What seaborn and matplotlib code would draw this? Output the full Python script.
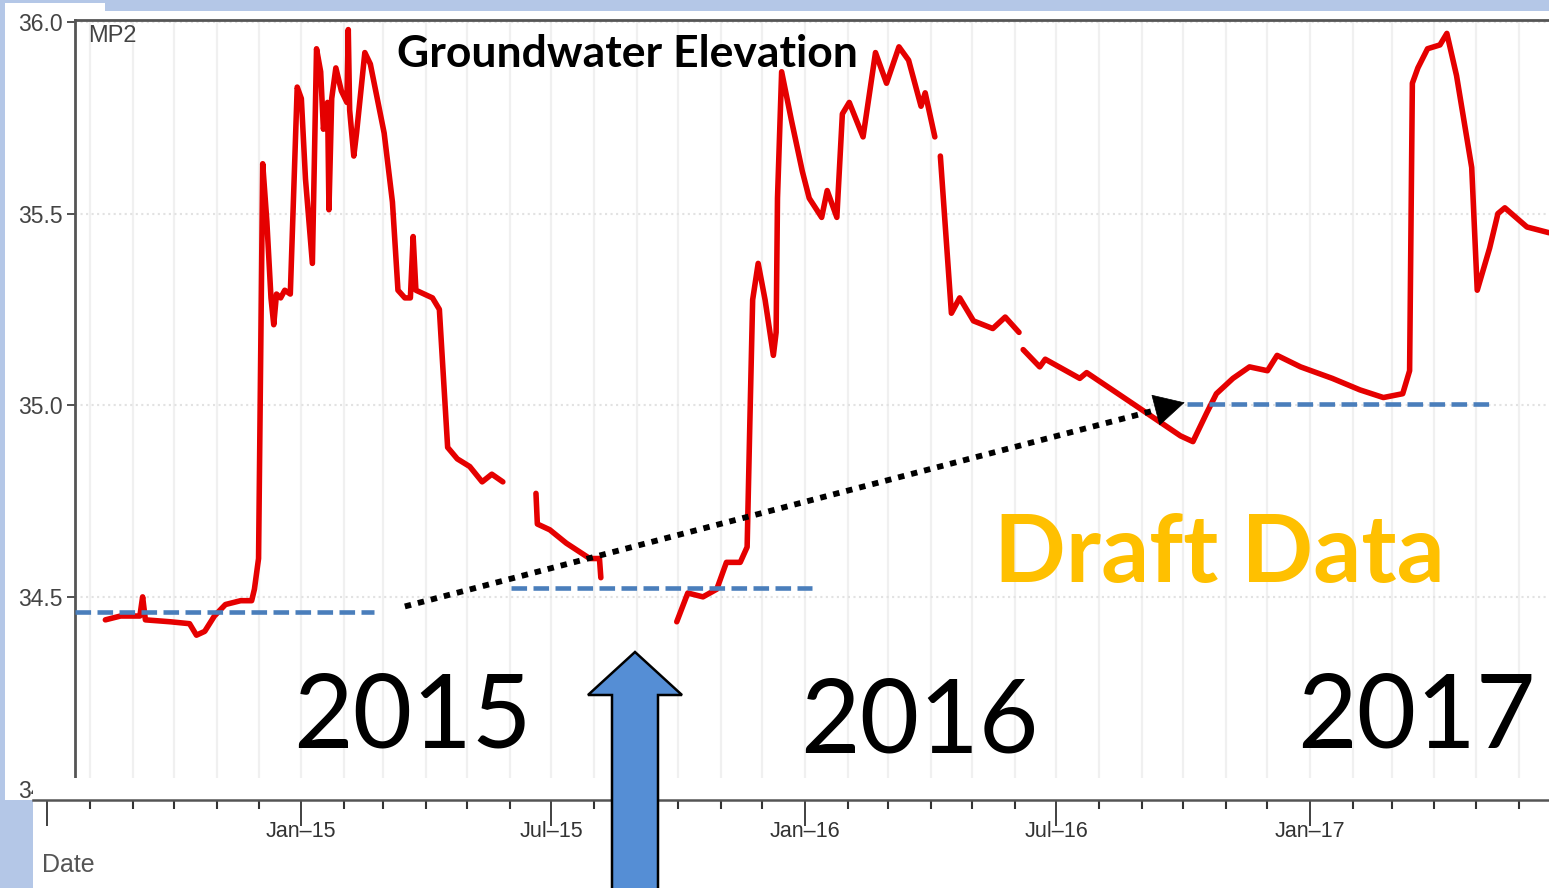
import matplotlib
matplotlib.use('Agg')
import numpy as np
import pandas as pd
import matplotlib.pyplot as plt
import matplotlib.dates as mdates
import matplotlib.ticker as ticker
from matplotlib.patches import Rectangle, Polygon
import seaborn as sns

# groundwater elevation at MP2 (gaps split the record)
seg_a_dates = ['2014-08-12', '2014-08-23', '2014-09-06', '2014-09-08', '2014-09-10', '2014-09-28',
               '2014-10-12', '2014-10-17', '2014-10-23', '2014-10-30', '2014-11-07', '2014-11-18',
               '2014-11-26', '2014-11-28', '2014-12-01', '2014-12-04', '2014-12-07', '2014-12-10',
               '2014-12-12', '2014-12-14', '2014-12-17', '2014-12-20', '2014-12-24', '2014-12-29',
               '2015-01-01', '2015-01-04', '2015-01-09', '2015-01-12', '2015-01-15', '2015-01-17',
               '2015-01-20', '2015-01-21', '2015-01-23', '2015-01-26', '2015-01-30', '2015-02-03',
               '2015-02-04', '2015-02-05', '2015-02-08', '2015-02-10', '2015-02-16', '2015-02-20',
               '2015-02-25', '2015-03-02', '2015-03-08', '2015-03-12', '2015-03-17', '2015-03-21',
               '2015-03-23', '2015-03-25', '2015-03-31', '2015-04-06', '2015-04-11', '2015-04-14',
               '2015-04-17', '2015-04-24', '2015-05-03', '2015-05-12', '2015-05-19', '2015-05-27']
seg_a_vals = [34.44, 34.45, 34.45, 34.50, 34.44, 34.435, 34.43, 34.40, 34.41, 34.45, 34.48, 34.49,
              34.49, 34.52, 34.60, 35.63, 35.48, 35.28, 35.21, 35.29, 35.28, 35.30, 35.29, 35.83,
              35.80, 35.59, 35.37, 35.93, 35.87, 35.72, 35.79, 35.51, 35.80, 35.88, 35.82, 35.79,
              35.98, 35.77, 35.65, 35.71, 35.92, 35.89, 35.80, 35.71, 35.53, 35.30, 35.28, 35.28,
              35.44, 35.30, 35.29, 35.28, 35.25, 35.07, 34.89, 34.86, 34.84, 34.80, 34.82, 34.80]

seg_b_dates = ['2015-06-20', '2015-06-21', '2015-06-30', '2015-07-12', '2015-07-29', '2015-08-05',
               '2015-08-06']
seg_b_vals = [34.77, 34.69, 34.675, 34.64, 34.60, 34.60, 34.55]

seg_c_dates = ['2015-09-30', '2015-10-08', '2015-10-19', '2015-10-29', '2015-11-05', '2015-11-15',
               '2015-11-20', '2015-11-22', '2015-11-24', '2015-11-28', '2015-12-03', '2015-12-09',
               '2015-12-11', '2015-12-12', '2015-12-15', '2015-12-22', '2015-12-30', '2016-01-04',
               '2016-01-13', '2016-01-17', '2016-01-24', '2016-01-28', '2016-02-02', '2016-02-12',
               '2016-02-21', '2016-02-29', '2016-03-09', '2016-03-16', '2016-03-25', '2016-03-28',
               '2016-04-04']
seg_c_vals = [34.435, 34.51, 34.50, 34.52, 34.59, 34.59, 34.63, 34.96, 35.275, 35.37, 35.275, 35.13,
              35.19, 35.54, 35.87, 35.745, 35.61, 35.54, 35.49, 35.56, 35.49, 35.76, 35.79, 35.70,
              35.92, 35.84, 35.935, 35.90, 35.78, 35.815, 35.70]

seg_d_dates = ['2016-04-08', '2016-04-16', '2016-04-22', '2016-05-02', '2016-05-16', '2016-05-25',
               '2016-06-04']
seg_d_vals = [35.65, 35.24, 35.28, 35.22, 35.20, 35.23, 35.19]

seg_e_dates = ['2016-06-07', '2016-06-19', '2016-06-23', '2016-07-18', '2016-07-23', '2016-08-23',
               '2016-09-29', '2016-10-08', '2016-10-18', '2016-10-25', '2016-11-06', '2016-11-18',
               '2016-12-01', '2016-12-08', '2016-12-25', '2017-01-17', '2017-02-06', '2017-02-23',
               '2017-03-09', '2017-03-14', '2017-03-16', '2017-03-20', '2017-03-27', '2017-04-05',
               '2017-04-10', '2017-04-17', '2017-04-28', '2017-05-02', '2017-05-11', '2017-05-17',
               '2017-05-22', '2017-06-07', '2017-06-23']
seg_e_vals = [35.145, 35.10, 35.12, 35.07, 35.085, 35.01, 34.92, 34.905, 34.98, 35.03, 35.07, 35.10,
              35.09, 35.13, 35.10, 35.07, 35.04, 35.02, 35.03, 35.09, 35.84, 35.88, 35.93, 35.94,
              35.97, 35.86, 35.62, 35.30, 35.41, 35.50, 35.515, 35.465, 35.45]

# dry-season baselines (blue dashed) and the trend arrow
base_starts = ['2014-07-21', '2015-06-02', '2016-10-04']
base_ends = ['2015-02-23', '2016-01-06', '2017-05-11']
base_levels = [34.46, 34.523, 35.003]
trend_dates = ['2015-03-17', '2016-10-02']
trend_vals = [34.475, 35.007]

year_labels = ['2015', '2016', '2017']
x_range = ['2014-07-21', '2017-06-23']
y_range = [33.97, 36.005]
y_ticks = [34.0, 34.5, 35.0, 35.5, 36.0]

segs = [(seg_a_dates, seg_a_vals), (seg_b_dates, seg_b_vals), (seg_c_dates, seg_c_vals),
        (seg_d_dates, seg_d_vals), (seg_e_dates, seg_e_vals)]
elev = pd.concat([pd.DataFrame({'date': pd.to_datetime(d), 'elev': v, 'seg': i})
                  for i, (d, v) in enumerate(segs)], ignore_index=True)

W, H = 1549, 888
def fx(x):
    return x / W
def fy(y):
    return 1 - y / H

sns.set_theme(style='white')
plt.rcParams['font.family'] = ['Liberation Sans', 'DejaVu Sans']

fig = plt.figure(figsize=(W / 100, H / 100), dpi=100, facecolor='#b4c7e7')
# white slide picture on the blue background
fig.add_artist(Rectangle((fx(5), fy(800)), fx(W) - fx(5), fy(11) - fy(800), transform=fig.transFigure,
                         facecolor='white', edgecolor='none', zorder=-2))
fig.add_artist(Rectangle((fx(5), fy(11)), fx(105) - fx(5), fy(3) - fy(11), transform=fig.transFigure,
                         facecolor='white', edgecolor='none', zorder=-2))

ax = fig.add_axes([fx(75), fy(800), fx(W) - fx(75), fy(20) - fy(800)])
ax.set_facecolor('white')

sns.lineplot(data=elev, x='date', y='elev', units='seg', estimator=None, color='#e50000',
             linewidth=4, ax=ax, legend=False)

for s, e, lvl in zip(base_starts, base_ends, base_levels):
    ax.plot(pd.to_datetime([s, e]), [lvl, lvl], color='#4a7ebb', lw=3.3, ls=(0, (3.4, 1.4)),
            dash_capstyle='butt', zorder=4)

# dotted trend arrow
sx, ex = mdates.date2num(pd.to_datetime(trend_dates))
sy, ey = trend_vals
tx, ty = sx + 0.968 * (ex - sx), sy + 0.968 * (ey - sy)
ax.plot([sx, tx], [sy, ty], color='black', lw=4.2, ls=(0, (1.1, 1.2)), dash_capstyle='butt', zorder=5)
ax.annotate('', xy=(ex, ey), xytext=(tx, ty),
            arrowprops=dict(arrowstyle='-|>,head_length=0.95,head_width=0.5', color='black', lw=0.5,
                            mutation_scale=22, shrinkA=0, shrinkB=0), zorder=5)

ax.set_xlim(pd.to_datetime(x_range[0]), pd.to_datetime(x_range[1]))
ax.set_ylim(*y_range)
ax.set_xlabel('')
ax.set_ylabel('')
ax.xaxis.set_major_locator(mdates.MonthLocator())
ax.tick_params(axis='x', length=0, labelbottom=False)
ax.set_yticks(y_ticks)
ax.set_yticklabels([f'{t:.1f}' for t in y_ticks])
ax.tick_params(axis='y', length=6, width=1.3, colors='#444', labelsize=16.5, pad=3, left=True)
ax.grid(axis='x', color='#f0f0f0', lw=1.6)
ax.grid(axis='y', color='#e2e2e2', lw=1.5, ls=':')
for side in ['right', 'bottom']:
    ax.spines[side].set_visible(False)
for side in ['left', 'top']:
    ax.spines[side].set_color('#555')
    ax.spines[side].set_linewidth(2)

ax.text((88 - 75) / (W - 75), 1 - (42 - 20) / 780, 'MP2', transform=ax.transAxes,
        fontsize=17, color='#444', ha='left', va='baseline')

# date strip underneath (pasted slightly wider than the plot)
ax2 = fig.add_axes([fx(33), 0, 1 - fx(33), fy(778)], zorder=3)
ax2.set_facecolor('white')
ax2.xaxis_date()
x0, x1 = ax.get_xlim()
days_per_px = (x1 - x0) / (W - 75)
ax2.set_xlim(x0 - 42 * days_per_px, x1)
ax2.set_ylim(0, 1)
ax2.set_yticks([])
for side in ['left', 'right', 'top']:
    ax2.spines[side].set_visible(False)
ax2.spines['bottom'].set_position(('axes', 0.8))
ax2.spines['bottom'].set_color('#555')
ax2.spines['bottom'].set_linewidth(1.8)


def date_label(v, pos):
    # only label Jan/Jul ticks that fall inside the plotted range
    return mdates.num2date(v).strftime('%b\u2013%y') if v >= x0 else ''


ax2.xaxis.set_major_locator(mdates.MonthLocator(bymonth=[1, 7]))
ax2.xaxis.set_major_formatter(ticker.FuncFormatter(date_label))
ax2.xaxis.set_minor_locator(mdates.MonthLocator())
ax2.tick_params(axis='x', which='major', length=19, width=1.3, pad=-4, labelsize=15.5,
                colors='#333', direction='out', bottom=True)
ax2.tick_params(axis='x', which='minor', length=6.5, width=1.5, colors='#333', direction='out',
                bottom=True)
ax2.text((42 - 33) / (W - 33), (888 - 872) / 110, 'Date', transform=ax2.transAxes, fontsize=18,
         color='#555', ha='left', va='baseline')

# slide annotations
fig.text(fx(627), fy(67), 'Groundwater Elevation', family='Lato', weight='bold', fontsize=32,
         ha='center', va='baseline', color='black', zorder=7)
for lab, cx, by in zip(year_labels, [412, 919, 1416], [748, 752, 748]):
    fig.text(fx(cx), fy(by), lab, family='Lato', fontsize=74, ha='center', va='baseline',
             color='black', zorder=7)
fig.text(fx(1219), fy(582), 'Draft Data', family='Lato', weight='bold', fontsize=68,
         ha='center', va='baseline', color='#ffc000', zorder=7)

arrow_px = [(612, 900), (612, 695), (588, 695), (635, 652), (682, 695), (658, 695), (658, 900)]
fig.add_artist(Polygon([(fx(x), fy(y)) for x, y in arrow_px], closed=True, transform=fig.transFigure,
                       facecolor='#558ed5', edgecolor='black', lw=1.8, zorder=8))

fig.savefig('out.png', dpi=100, facecolor=fig.get_facecolor())
